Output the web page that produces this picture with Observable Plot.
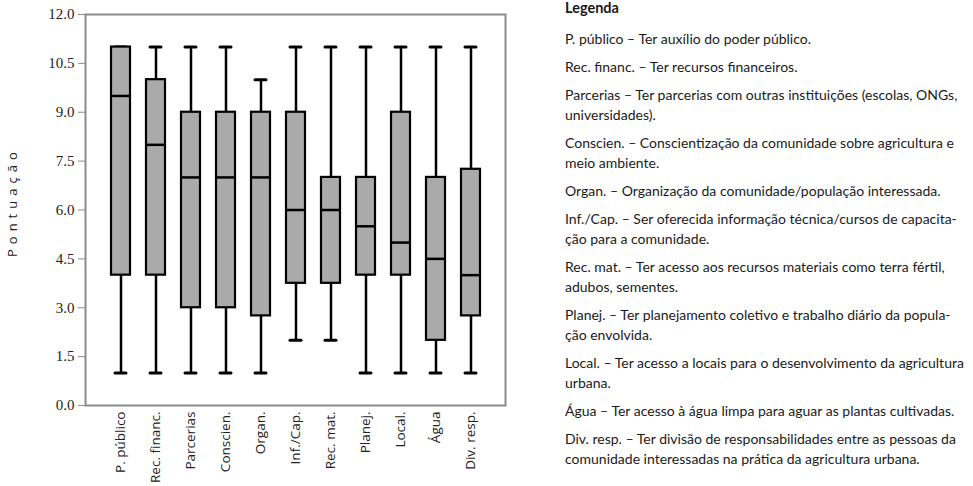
<!DOCTYPE html>
<html>
<head>
<meta charset="utf-8">
<script src="https://cdn.jsdelivr.net/npm/d3@7"></script>
<script src="https://cdn.jsdelivr.net/npm/@observablehq/plot@0.6"></script>
<style>
  html, body { margin: 0; padding: 0; background: #fff; }
  #wrap { position: relative; width: 973px; height: 486px; overflow: hidden; }
  #chart { position: absolute; left: 0; top: 0; }
  #legend { position: absolute; left: 565px; top: 0px; width: 405px; font-family: Lato, "Open Sans", sans-serif; font-size: 14px; color: #1a1a1a; }
  #legend .title { font-weight: bold; font-size: 14.5px; line-height: 16px; margin-bottom: 13px; }
  #legend .item { line-height: 20px; margin-bottom: 8px; white-space: nowrap; }
  .ytick text { font-family: "Liberation Serif", "DejaVu Serif", serif !important; }
</style>
</head>
<body>
<div id="wrap">
  <div id="chart"></div>
  <div id="legend"></div>
</div>
<script>
const categories = ["P. público", "Rec. financ.", "Parcerias", "Conscien.", "Organ.", "Inf./Cap.", "Rec. mat.", "Planej.", "Local.", "Água", "Div. resp."];
const mins    = [1, 1, 1, 1, 1, 2, 2, 1, 1, 1, 1];
const q1s     = [4, 4, 3, 3, 2.75, 3.75, 3.75, 4, 4, 2, 2.75];
const medians = [9.5, 8, 7, 7, 7, 6, 6, 5.5, 5, 4.5, 4];
const q3s     = [11, 10, 9, 9, 9, 9, 7, 7, 9, 7, 7.25];
const maxs    = [11, 11, 11, 11, 10, 11, 11, 11, 11, 11, 11];
const yTicks  = [0, 1.5, 3, 4.5, 6, 7.5, 9, 10.5, 12];

const legendTitle = "Legenda";
const legendLines = [
  ["P. público – Ter auxílio do poder público."],
  ["Rec. financ. – Ter recursos financeiros."],
  ["Parcerias – Ter parcerias com outras instituições (escolas, ONGs,", "universidades)."],
  ["Conscien. – Conscientização da comunidade sobre agricultura e", "meio ambiente."],
  ["Organ. – Organização da comunidade/população interessada."],
  ["Inf./Cap. – Ser oferecida informação técnica/cursos de capacita-", "ção para a comunidade."],
  ["Rec. mat. – Ter acesso aos recursos materiais como terra fértil,", "adubos, sementes."],
  ["Planej. – Ter planejamento coletivo e trabalho diário da popula-", "ção envolvida."],
  ["Local. – Ter acesso a locais para o desenvolvimento da agricultura", "urbana."],
  ["Água – Ter acesso à água limpa para aguar as plantas cultivadas."],
  ["Div. resp. – Ter divisão de responsabilidades entre as pessoas da", "comunidade interessadas  na prática da agricultura urbana."]
];

const rows = categories.map((c, i) => ({cat: c, min: mins[i], q1: q1s[i], med: medians[i], q3: q3s[i], max: maxs[i]}));

const chart = Plot.plot({
  width: 520,
  height: 486,
  marginTop: 14,
  marginBottom: 81,
  marginLeft: 85,
  marginRight: 15,
  style: {fontFamily: "'Open Sans', sans-serif", background: "transparent"},
  x: {type: "band", domain: categories, paddingInner: 0.47, paddingOuter: 0.735, label: null},
  y: {domain: [0, 12], label: null},
  marks: [
    Plot.frame({stroke: "#8a8a8a", strokeWidth: 2}),
    Plot.ruleX(rows, {x: "cat", y1: "min", y2: "q1", stroke: "#000", strokeWidth: 2.5}),
    Plot.ruleX(rows, {x: "cat", y1: "q3", y2: "max", stroke: "#000", strokeWidth: 2.5}),
    Plot.tickY(rows, {x: "cat", y: "min", stroke: "#000", strokeWidth: 3, insetLeft: 4, insetRight: 4, strokeLinecap: "round"}),
    Plot.tickY(rows, {x: "cat", y: "max", stroke: "#000", strokeWidth: 3, insetLeft: 4, insetRight: 4, strokeLinecap: "round"}),
    Plot.rectY(rows, {x: "cat", y1: "q1", y2: "q3", fill: "#aaaaaa", stroke: "#000", strokeWidth: 2.2}),
    Plot.tickY(rows, {x: "cat", y: "med", stroke: "#000", strokeWidth: 2.5}),
    Plot.axisY({ticks: yTicks, tickFormat: d3.format(".1f"), tickSize: 7, tickPadding: 4, stroke: "#8a8a8a", fill: "#222", fontSize: 15, label: null, className: "ytick"}),
    Plot.ruleX([0], {frameAnchor: "left", stroke: "#8a8a8a", strokeWidth: 3}),
    Plot.axisX({tickSize: 0, tickPadding: 6, tickRotate: -90, fill: "#222", fontSize: 13.5, label: null}),
    Plot.text(["Pontuação"], {frameAnchor: "left", dx: -73, dy: 47, rotate: -90, fill: "#222", fontSize: 13})
  ]
});
document.getElementById("chart").appendChild(chart);

// Serif tick labels on the y axis
d3.select(chart).selectAll("g[aria-label='y-axis tick label'] text")
  .style("font-family", "'Liberation Serif', 'DejaVu Serif', serif");

// letter spacing on the y label
d3.select(chart).selectAll("text").filter(function() { return this.textContent === "Pontuação"; })
  .style("letter-spacing", "5px");

const legend = d3.select("#legend");
legend.append("div").attr("class", "title").text(legendTitle);
legendLines.forEach(lines => {
  const item = legend.append("div").attr("class", "item");
  lines.forEach((l, j) => {
    if (j > 0) item.append("br");
    item.append("span").text(l);
  });
});
</script>
</body>
</html>
